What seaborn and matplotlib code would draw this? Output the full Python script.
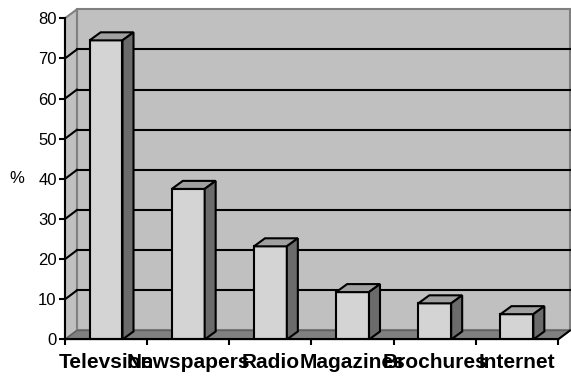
import matplotlib
matplotlib.use('Agg')
import matplotlib.pyplot as plt
from matplotlib.patches import Polygon
import seaborn as sns

categories = ['Televsion', 'Newspapers', 'Radio', 'Magazines', 'Brochures', 'Internet']
values = [74.5, 37.5, 23.2, 11.8, 9.0, 6.3]
yticks = [0, 10, 20, 30, 40, 50, 60, 70, 80]

plt.rcParams['font.family'] = ['Liberation Sans', 'DejaVu Sans']

fig = plt.figure(figsize=(5.71, 3.76), dpi=100)
ax = fig.add_axes([0.1138, 0.0971, 0.8634, 0.8543])
ax.set_facecolor('none')

sns.barplot(x=categories, y=values, color='#d4d4d4', edgecolor='black',
            linewidth=1.5, width=0.4, saturation=1, ax=ax)

ax.set_xlim(-0.5, 5.5)
ax.set_ylim(0, 80)

# 3d depth offsets in data units
wdx, wdy = 0.146, 2.24   # walls
bdx, bdy = 0.134, 2.0    # bars
x0, x1 = -0.5, 5.5
top = yticks[-1]

# back wall, left wall, floor
ax.add_patch(Polygon([(x0 + wdx, wdy), (x1 + wdx, wdy), (x1 + wdx, top + wdy), (x0 + wdx, top + wdy)],
                     closed=True, fc='#c0c0c0', ec='#808080', lw=1.5, zorder=0.5, clip_on=False))
ax.add_patch(Polygon([(x0, 0), (x0 + wdx, wdy), (x0 + wdx, top + wdy), (x0, top)],
                     closed=True, fc='#c0c0c0', ec='#808080', lw=1.5, zorder=0.6, clip_on=False))
ax.add_patch(Polygon([(x0, 0), (x1, 0), (x1 + wdx, wdy), (x0 + wdx, wdy)],
                     closed=True, fc='#808080', ec='#606060', lw=1.0, zorder=0.7, clip_on=False))
ax.plot([x1, x1 + wdx], [0, wdy], color='black', lw=1.5, zorder=0.8, clip_on=False)

# gridlines on back wall and left wall
for y in yticks[1:-1]:
    ax.plot([x0 + wdx, x1 + wdx], [y + wdy, y + wdy], color='black', lw=1.5, zorder=0.9, clip_on=False)
    ax.plot([x0, x0 + wdx], [y, y + wdy], color='black', lw=1.5, zorder=0.9, clip_on=False)

# top and side faces of the bars
for p in list(ax.patches):
    if p.get_zorder() < 1:
        continue
    p.set_zorder(3)
    bx0 = p.get_x()
    bx1 = bx0 + p.get_width()
    h = p.get_height()
    ax.add_patch(Polygon([(bx0, h), (bx0 + bdx, h + bdy), (bx1 + bdx, h + bdy), (bx1, h)],
                         closed=True, fc='#a0a0a0', ec='black', lw=1.5, zorder=3))
    ax.add_patch(Polygon([(bx1, 0), (bx1 + bdx, bdy), (bx1 + bdx, h + bdy), (bx1, h)],
                         closed=True, fc='#6b6b6b', ec='black', lw=1.5, zorder=3))

for s in ['top', 'right']:
    ax.spines[s].set_visible(False)
for s in ['left', 'bottom']:
    ax.spines[s].set_linewidth(1.5)
    ax.spines[s].set_color('black')
    ax.spines[s].set_zorder(4)

ax.set_yticks(yticks)
ax.tick_params(axis='y', length=4.5, width=1.5, pad=1.5, labelsize=12)
ax.set_xticks(range(len(categories)))
ax.set_xticklabels(categories, fontsize=15, fontweight='bold')
ax.set_xticks([i - 0.5 for i in range(len(categories) + 1)], minor=True)
ax.tick_params(axis='x', which='major', length=0, pad=10)
ax.tick_params(axis='x', which='minor', length=4.5, width=1.5)

ax.set_xlabel('')
ax.set_ylabel('%', rotation=0, fontsize=12, va='center', ha='center')
ax.yaxis.set_label_coords(-0.097, 0.5)

fig.savefig('out.png', dpi=100, facecolor='white')
